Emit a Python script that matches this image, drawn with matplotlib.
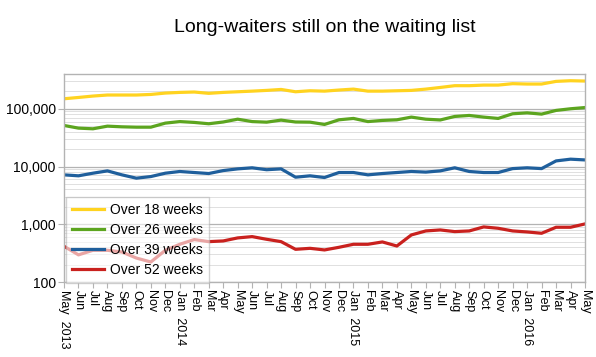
import matplotlib
matplotlib.use("Agg")
import matplotlib.pyplot as plt
from matplotlib.ticker import FixedLocator, FuncFormatter, LogLocator, NullFormatter

plt.rcParams['font.family'] = ['Liberation Sans', 'DejaVu Sans']

months = ["May  2013", "Jun", "Jul", "Aug", "Sep", "Oct", "Nov", "Dec",
          "Jan  2014", "Feb", "Mar", "Apr", "May", "Jun", "Jul", "Aug", "Sep",
          "Oct", "Nov", "Dec", "Jan  2015", "Feb", "Mar", "Apr", "May", "Jun",
          "Jul", "Aug", "Sep", "Oct", "Nov", "Dec", "Jan  2016", "Feb", "Mar",
          "Apr", "May"]

over18 = [149000, 157000, 166000, 173000, 173000, 173000, 177000, 187000, 192000,
          195000, 185000, 192000, 197000, 202000, 208000, 216000, 197000, 205000,
          202000, 211000, 219000, 202000, 202000, 205000, 208000, 219000, 234000,
          251000, 251000, 257000, 257000, 272000, 268000, 268000, 298000, 306000,
          302000]
over26 = [51400, 46200, 45000, 50000, 48700, 48000, 48000, 56400, 60000, 58000,
          55000, 59000, 66000, 60000, 58600, 63600, 59000, 58600, 53500, 64400,
          68000, 60000, 62800, 64400, 71700, 66000, 64000, 73600, 76600, 71700,
          68000, 81900, 85000, 80800, 93600, 100000, 105000]
over39 = [7170, 6900, 7660, 8400, 7170, 6280, 6700, 7660, 8200, 7870, 7560, 8500,
          9100, 9500, 8800, 9100, 6530, 6900, 6450, 7870, 7870, 7170, 7560, 7870,
          8200, 8000, 8400, 9500, 8200, 7870, 7870, 9200, 9500, 9200, 12500, 13400,
          13000]
over52 = [416, 295, 354, 354, 331, 260, 222, 354, 450, 543, 500, 514, 580, 611,
          549, 500, 368, 383, 359, 399, 450, 450, 494, 420, 653, 766, 797, 746,
          766, 899, 852, 766, 736, 698, 887, 887, 1013]

series = [("Over 18 weeks", over18, "#FFD320"),
          ("Over 26 weeks", over26, "#5CA51F"),
          ("Over 39 weeks", over39, "#1F5F9C"),
          ("Over 52 weeks", over52, "#C9211E")]

fig = plt.figure(figsize=(5.96, 3.57), dpi=100)
ax = fig.add_axes([64/596, 1-282/357, (585-64)/596, (282-74)/357])

x = list(range(len(months)))
for name, vals, col in series:
    ax.plot(x, vals, color=col, lw=2.3, label=name, solid_joinstyle='round')

ax.set_yscale('log')
ax.set_ylim(100, 400000)
ax.set_xlim(0, len(months)-1)

ax.yaxis.set_major_locator(FixedLocator([100, 1000, 10000, 100000]))
ax.yaxis.set_major_formatter(FuncFormatter(lambda v, p: f"{int(round(v)):,}"))
ax.yaxis.set_minor_locator(LogLocator(base=10, subs=range(2, 10)))
ax.yaxis.set_minor_formatter(NullFormatter())
ax.grid(which='major', axis='y', color='#b3b3b3', lw=0.9)
ax.grid(which='minor', axis='y', color='#e0e0e0', lw=0.7)
ax.set_axisbelow(True)

ax.set_xticks(x)
ax.set_xticklabels(months, rotation=270, ha='center', va='top', fontsize=9)
ax.tick_params(axis='x', direction='out', length=4, color='#b3b3b3', pad=2)
ax.tick_params(axis='y', which='major', direction='out', length=4, color='#b3b3b3',
               labelsize=10, pad=2)
ax.tick_params(axis='y', which='minor', length=0)
for s in ax.spines.values():
    s.set_color('#b3b3b3')
    s.set_linewidth(1.0)

fig.text(325/596, 1-28/357, "Long-waiters still on the waiting list",
         ha='center', va='center', fontsize=14)

leg = ax.legend(loc='upper left', bbox_to_anchor=(66/596, 1-197/357),
                bbox_transform=fig.transFigure, borderaxespad=0, fontsize=10,
                fancybox=False, framealpha=0.6, edgecolor='#b3b3b3',
                handlelength=2.3, labelspacing=0.45, handletextpad=0.5,
                borderpad=0.4)
leg.get_frame().set_linewidth(1.0)

fig.savefig("out.png", dpi=100)
